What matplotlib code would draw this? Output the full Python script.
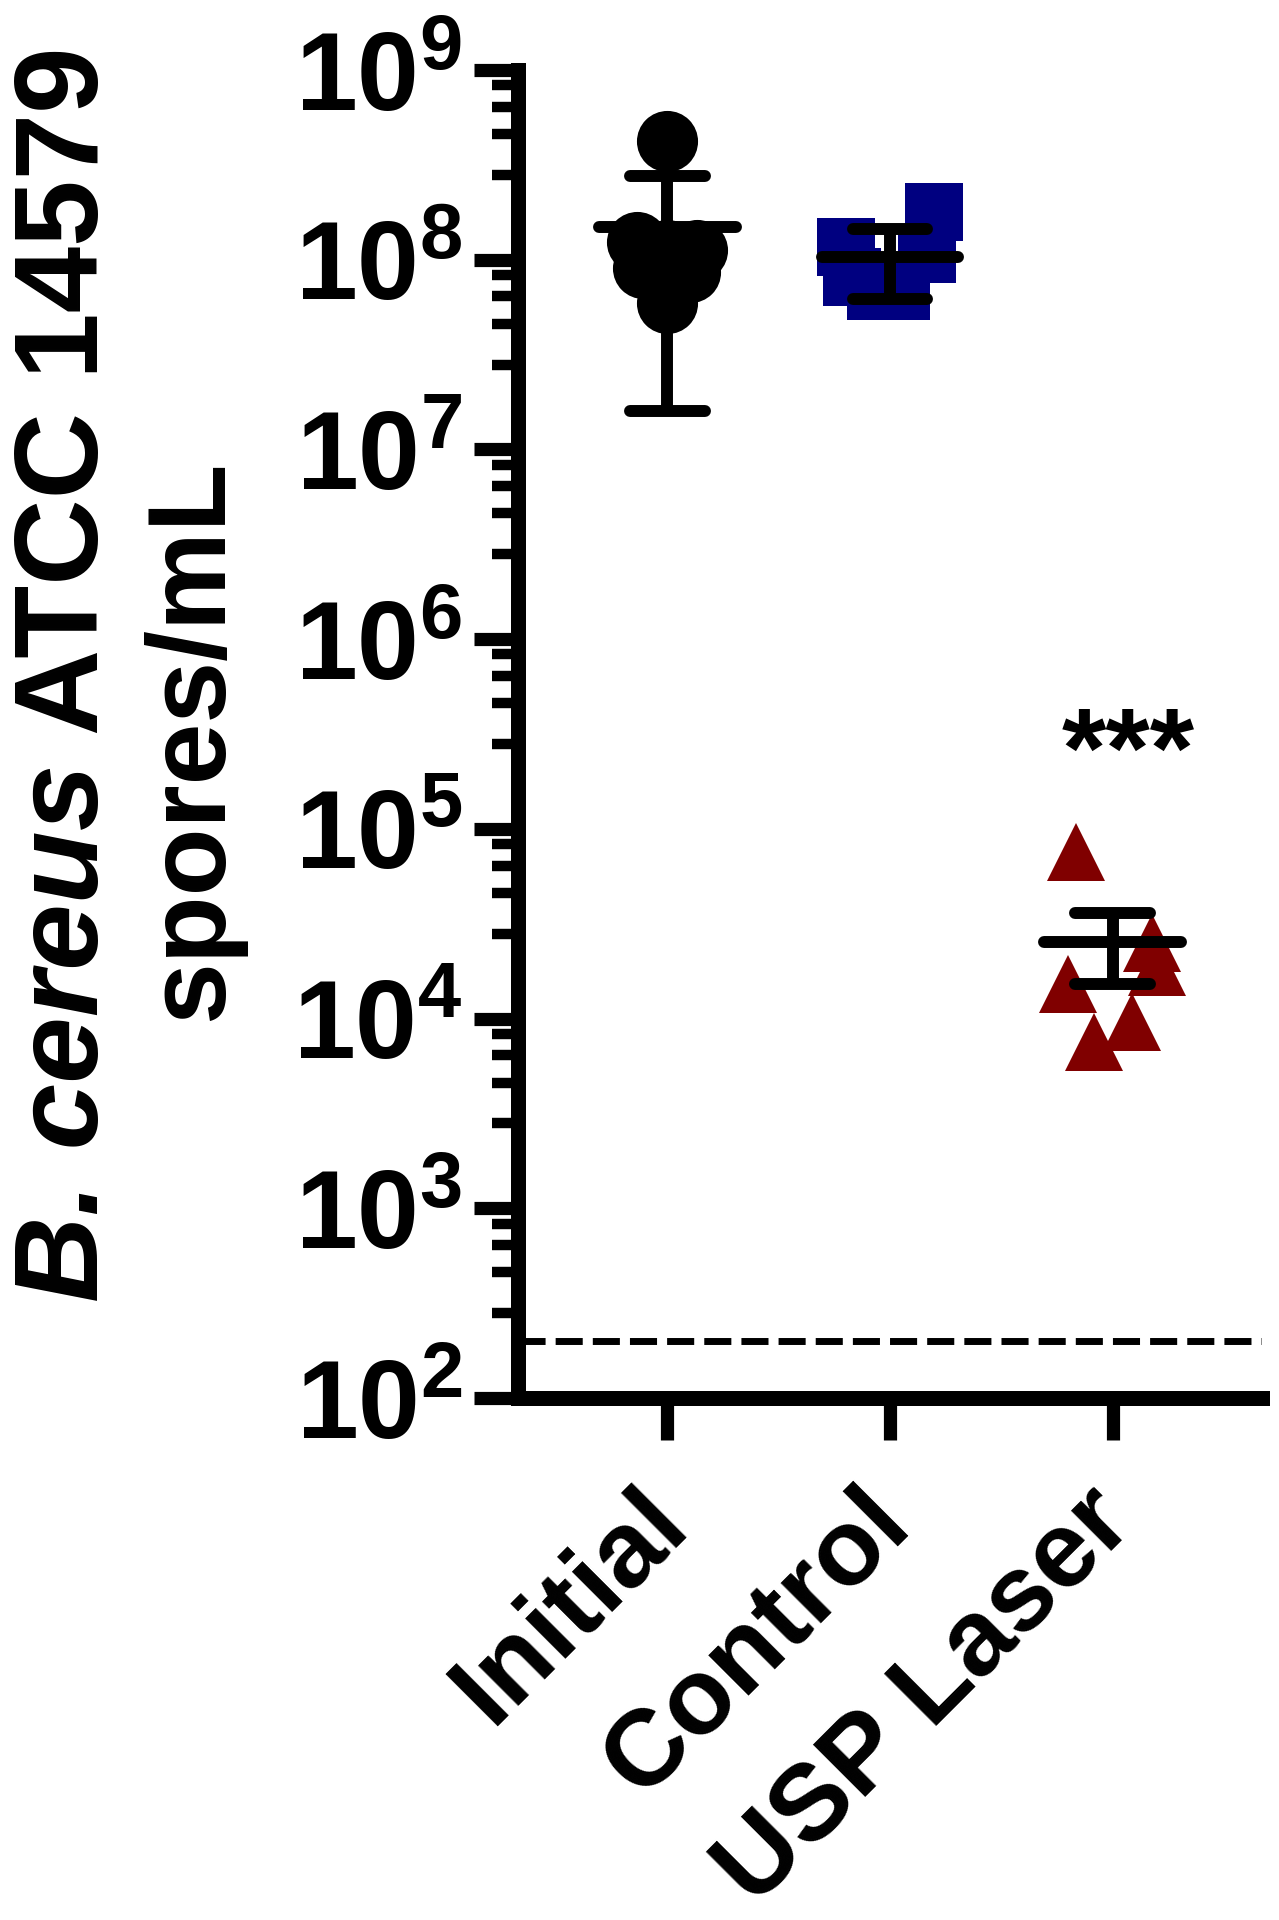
import numpy as np
import matplotlib
matplotlib.use('Agg')
import matplotlib.pyplot as plt
from matplotlib.ticker import FixedLocator, FixedFormatter, NullFormatter
from matplotlib.transforms import ScaledTranslation

plt.rcParams['font.family'] = ['Liberation Sans', 'DejaVu Sans']
plt.rcParams['font.weight'] = 'bold'
plt.rcParams['mathtext.fontset'] = 'custom'
plt.rcParams['mathtext.rm'] = 'Liberation Sans:bold'
plt.rcParams['mathtext.bf'] = 'Liberation Sans:bold'
plt.rcParams['mathtext.it'] = 'Liberation Sans:italic:bold'
plt.rcParams['mathtext.sf'] = 'Liberation Sans:bold'

# ---------------- data ----------------
categories = ['Initial', 'Control', 'USP Laser']

initial_vals = [4.2e8, 1.24e8, 1.12e8, 1.12e8, 8.6e7, 9.0e7, 5.9e7]
initial_offsets = [0.0, -0.135, 0.135, 0.0, 0.10, -0.11, 0.0]

control_vals = [1.78e8, 1.16e8, 1.07e8, 8.1e7, 6.8e7, 6.8e7]
control_offsets = [0.197, -0.197, 0.166, -0.17, -0.064, 0.05]

laser_vals = [7.55e4, 2.49e4, 1.86e4, 1.53e4, 9.6e3, 7.5e3]
laser_offsets = [-0.166, 0.175, 0.20, -0.20, 0.085, -0.085]

means = [1.49e8, 1.03e8, 2.52e4]
upper = [2.76e8, 1.45e8, 3.58e4]
lower = [1.59e7, 6.2e7, 1.53e4]

detection_limit = 200
significance = '***'
sig_pos = (2.07, 1.67e5)

ylabel_species = 'B. cereus'
ylabel_strain = ' ATCC 14579'
ylabel_units = 'spores/mL'

major_exponents = [2, 3, 4, 5, 6, 7, 8, 9]
minor_subs = [2.8, 4.6, 6.4, 8.3]

# ---------------- figure ----------------
W, H = 1279, 1920
fig = plt.figure(figsize=(W / 100, H / 100), dpi=100)
ax = fig.add_axes([518 / W, 1 - 1398 / H, (1262 - 518) / W, (1398 - 70) / H])
ax.set_yscale('log')
ax.set_ylim(1e2, 1e9)
ax.set_xlim(-0.67, 2.67)

groups = [
    (initial_vals, initial_offsets, 'o', 'black', 44),
    (control_vals, control_offsets, 's', '#000080', 42),
    (laser_vals, laser_offsets, '^', '#800000', 42),
]
for i, (vals, offs, mk, col, ms) in enumerate(groups):
    xs = [i + o for o in offs]
    ax.plot(xs, vals, linestyle='none', marker=mk, markersize=ms,
            color=col, markeredgewidth=0, zorder=2)

# dashed detection limit
ax.axhline(detection_limit, color='black', lw=5, linestyle=(0, (3.9, 1.45)), zorder=1)

# mean +/- SD
elw = 8.6
xpos = np.arange(len(categories))
ax.hlines(means, xpos - 0.307, xpos + 0.307, color='black', lw=elw,
          capstyle='round', zorder=3)
ax.hlines(upper, xpos - 0.168, xpos + 0.168, color='black', lw=elw,
          capstyle='round', zorder=3)
ax.hlines(lower, xpos - 0.168, xpos + 0.168, color='black', lw=elw,
          capstyle='round', zorder=3)
ax.vlines(xpos, lower, upper, color='black', lw=elw, zorder=3)

ax.text(sig_pos[0], sig_pos[1], significance, ha='center', va='baseline',
        fontsize=82, fontweight='bold')

# axes styling
for s in ['top', 'right']:
    ax.spines[s].set_visible(False)
for s in ['left', 'bottom']:
    ax.spines[s].set_linewidth(10.8)
    ax.spines[s].set_capstyle('projecting')

ax.yaxis.set_major_locator(FixedLocator([10.0 ** e for e in major_exponents]))
ax.yaxis.set_major_formatter(FixedFormatter([r'$\mathbf{10^{%d}}$' % e for e in major_exponents]))
ax.yaxis.set_minor_locator(FixedLocator([s * 10.0 ** e for e in major_exponents[:-1] for s in minor_subs]))
ax.yaxis.set_minor_formatter(NullFormatter())

ax.set_xticks(xpos)
ax.set_xticklabels(categories, rotation=45, ha='right', va='center',
                   rotation_mode='anchor', fontsize=78, fontweight='bold')
ax.tick_params(axis='y', which='major', length=32, width=9.5, pad=8,
               labelsize=80, direction='out')
ax.tick_params(axis='y', which='minor', length=19, width=7.5, direction='out')
ax.tick_params(axis='x', which='major', length=30, width=9.5, pad=48, direction='out')
ax.tick_params(axis='x', which='minor', length=0)

for lab in ax.get_xticklabels():
    lab.set_transform(lab.get_transform() + ScaledTranslation(4 / 100, 0, fig.dpi_scale_trans))

# y label: first line built from an italic part and an upright part
renderer = fig.canvas.get_renderer()
lab_fs = 86
t_a = fig.text(0, 0, ylabel_species, rotation=90, rotation_mode='anchor',
               ha='left', va='baseline', fontsize=lab_fs, fontweight='bold',
               style='italic')
t_b = fig.text(0, 0, ylabel_strain, rotation=90, rotation_mode='anchor',
               ha='left', va='baseline', fontsize=lab_fs, fontweight='bold')
len_a = t_a.get_window_extent(renderer).height
len_b = t_b.get_window_extent(renderer).height
centre_px = H - 674
start_px = centre_px - (len_a + len_b) / 2
t_a.set_position((98 / W, start_px / H))
t_b.set_position((98 / W, (start_px + len_a) / H))

fig.text(222 / W, 1 - 740 / H, ylabel_units, rotation=90,
         rotation_mode='anchor', ha='center', va='baseline', fontsize=80,
         fontweight='bold')

fig.savefig('out.png', dpi=100)
